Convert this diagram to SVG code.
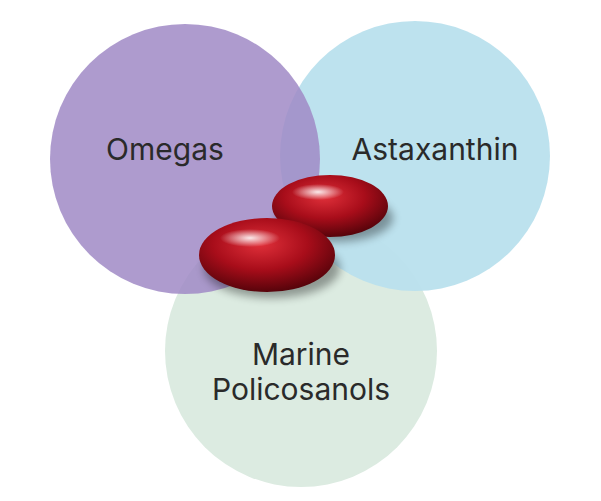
<svg xmlns="http://www.w3.org/2000/svg" width="601" height="501" viewBox="0 0 601 501">
<defs>
<style>
text{font-family:Inter,"Noto Sans",sans-serif;font-size:30px;fill:#2a2a2a;text-anchor:middle}
</style>
<radialGradient id="cap" cx="0.45" cy="0.35" r="0.7">
<stop offset="0" stop-color="#e0303a"/>
<stop offset="0.5" stop-color="#a80d1a"/>
<stop offset="1" stop-color="#4a0208"/>
</radialGradient>
<radialGradient id="hl" cx="0.5" cy="0.5" r="0.5">
<stop offset="0" stop-color="#fff" stop-opacity="0.9"/>
<stop offset="1" stop-color="#fff" stop-opacity="0"/>
</radialGradient>
<filter id="sh" x="-20%" y="-20%" width="140%" height="160%"><feGaussianBlur stdDeviation="4"/></filter>
</defs>
<rect width="601" height="501" fill="#fff"/>
<g id="green"><circle cx="301" cy="351" r="136" fill="#dcebe1"/></g>
<g id="blue"><circle cx="415" cy="156" r="135" fill="#b9e0ed" fill-opacity="0.95"/></g>
<g id="purple"><circle cx="185" cy="159" r="135" fill="#a08ac5" fill-opacity="0.85"/></g>
<g id="labels">
<text x="165" y="160">Omegas</text>
<text x="435" y="160">Astaxanthin</text>
<text x="301" y="365">Marine</text>
<text x="301" y="400">Policosanols</text>
</g>
<g id="capsules">
<ellipse cx="335" cy="218" rx="58" ry="24" fill="#000" opacity="0.35" filter="url(#sh)"/>
<ellipse cx="330" cy="206" rx="58" ry="31" fill="url(#cap)"/>
<ellipse cx="318" cy="192" rx="26" ry="8" fill="url(#hl)"/>
<ellipse cx="272" cy="268" rx="68" ry="30" fill="#000" opacity="0.35" filter="url(#sh)"/>
<ellipse cx="267" cy="255" rx="68" ry="37" fill="url(#cap)"/>
<ellipse cx="250" cy="238" rx="30" ry="9" fill="url(#hl)"/>
</g>
</svg>
